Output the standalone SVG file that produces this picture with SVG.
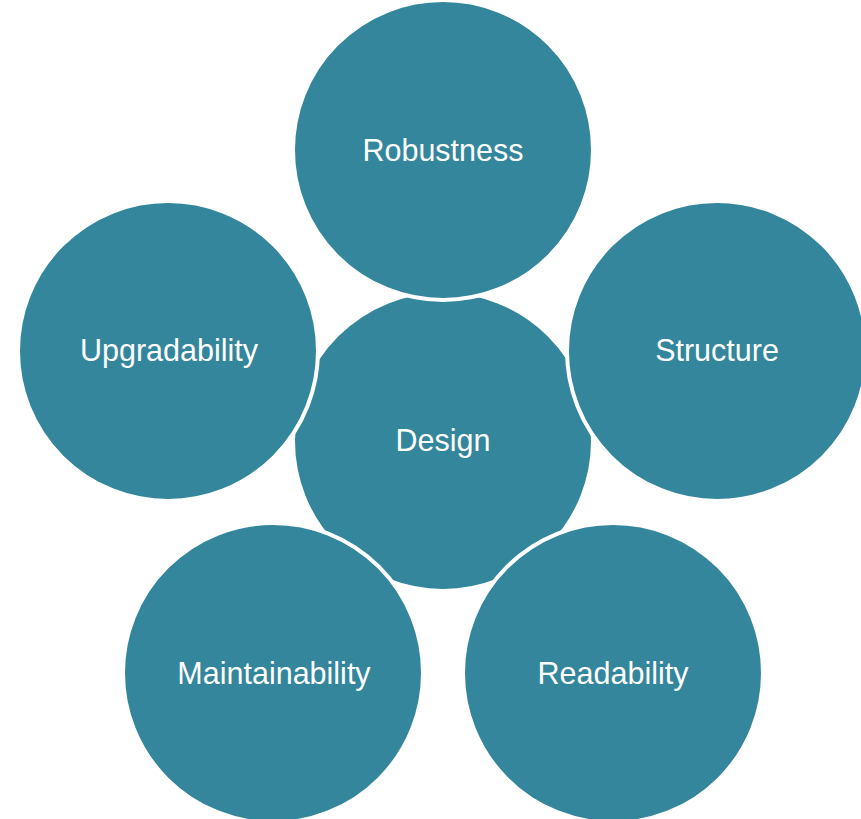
<svg xmlns="http://www.w3.org/2000/svg" width="861" height="819" viewBox="0 0 861 819">
<style>
.c{fill:#33869b;stroke:#ffffff;stroke-width:4}
.t{fill:#ffffff;font-family:"Liberation Sans",Arial,sans-serif;font-size:30.5px;text-anchor:middle;dominant-baseline:central}
</style>
<rect width="861" height="819" fill="#ffffff"/>
<g id="design"><circle class="c" cx="443" cy="441" r="150"/><text class="t" x="443" y="440">Design</text></g>
<g id="robustness"><circle class="c" cx="443" cy="150" r="150"/><text class="t" x="443" y="150">Robustness</text></g>
<g id="upgradability"><circle class="c" cx="168" cy="351" r="150"/><text class="t" x="169" y="350">Upgradability</text></g>
<g id="structure"><circle class="c" cx="717" cy="351" r="150"/><text class="t" x="717" y="350">Structure</text></g>
<g id="maintainability"><circle class="c" cx="273" cy="673" r="150"/><text class="t" x="274" y="673">Maintainability</text></g>
<g id="readability"><circle class="c" cx="613" cy="673" r="150"/><text class="t" x="613" y="673">Readability</text></g>
<g id="connectors"/>
</svg>
